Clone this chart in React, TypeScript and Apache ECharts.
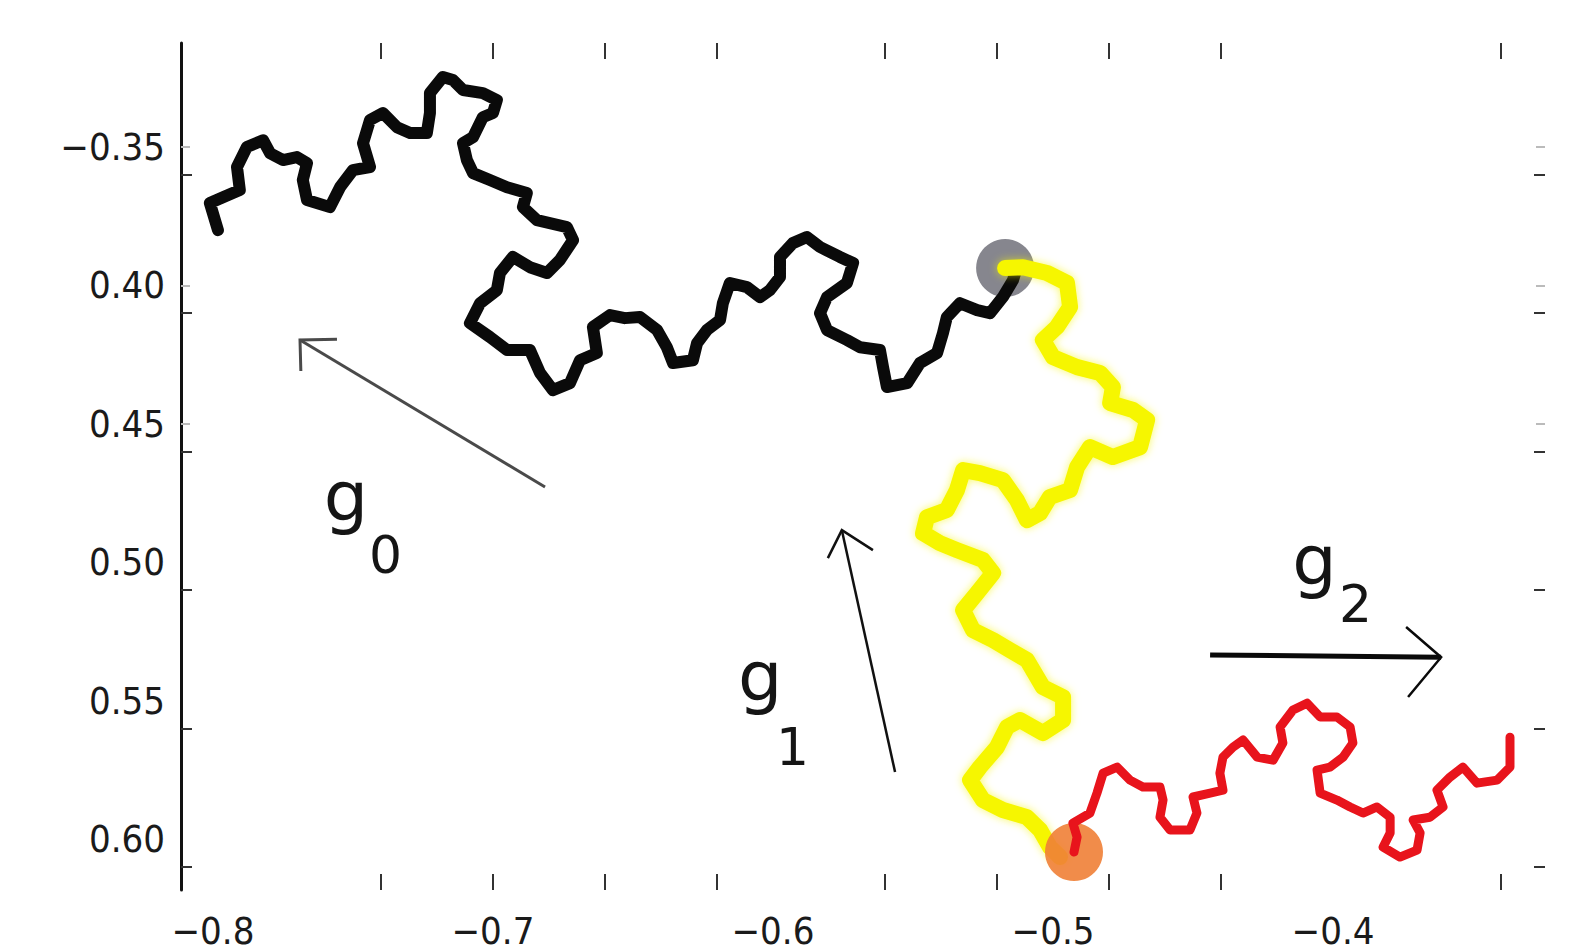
import React, { useEffect, useRef } from "react";
import * as echarts from "echarts";

// Axis ranges and ticks (data units)
const xRange = [-0.8114, -0.3243];
const yRange = [-0.6184, -0.3124];
const xTickLabels = [-0.8, -0.7, -0.6, -0.5, -0.4];
const yTickLabels = [-0.35, -0.4, -0.45, -0.5, -0.55, -0.6];
const xTicks = [-0.74, -0.7, -0.66, -0.62, -0.56, -0.52, -0.48, -0.44, -0.34];
const yTicks = [-0.36, -0.41, -0.46, -0.51, -0.56, -0.61];
const yFaintTicks = [-0.35, -0.4, -0.45];

// g0 path (black)
const curveG0 = [
  [-0.7982, -0.38], [-0.8011, -0.3702], [-0.7964, -0.3681], [-0.7904, -0.3655], [-0.7914, -0.3572],
  [-0.7879, -0.35], [-0.7821, -0.3475], [-0.7796, -0.3522], [-0.775, -0.3547], [-0.77, -0.3536],
  [-0.7664, -0.3558], [-0.7679, -0.3619], [-0.7664, -0.3691], [-0.7582, -0.3717], [-0.7546, -0.3645],
  [-0.75, -0.3583], [-0.7439, -0.3572], [-0.7464, -0.3486], [-0.7439, -0.3402], [-0.7393, -0.3377],
  [-0.7343, -0.3428], [-0.7296, -0.3449], [-0.7236, -0.3449], [-0.7225, -0.3377], [-0.7225, -0.3305],
  [-0.7179, -0.3247], [-0.7143, -0.3258], [-0.7107, -0.3294], [-0.7036, -0.3305], [-0.6986, -0.333],
  [-0.7, -0.3377], [-0.7036, -0.3392], [-0.7071, -0.3464], [-0.7107, -0.3486], [-0.7093, -0.3547],
  [-0.7071, -0.3594], [-0.7011, -0.3619], [-0.695, -0.3645], [-0.6879, -0.3666], [-0.6893, -0.3717],
  [-0.6843, -0.3764], [-0.6736, -0.3789], [-0.6714, -0.3836], [-0.6761, -0.3908], [-0.6807, -0.3955],
  [-0.6868, -0.3934], [-0.6929, -0.3897], [-0.6975, -0.3955], [-0.6986, -0.4017], [-0.7046, -0.4064],
  [-0.7082, -0.4136], [-0.7011, -0.4186], [-0.695, -0.4233], [-0.6868, -0.4233], [-0.6832, -0.4316],
  [-0.6786, -0.4378], [-0.6725, -0.4353], [-0.6689, -0.427], [-0.6629, -0.4244], [-0.6643, -0.415],
  [-0.6582, -0.4107], [-0.6529, -0.4118], [-0.6475, -0.4114], [-0.6414, -0.4161], [-0.6379, -0.4223],
  [-0.6357, -0.428], [-0.6286, -0.427], [-0.6271, -0.4208], [-0.6236, -0.4161], [-0.6189, -0.4125],
  [-0.6179, -0.4064], [-0.6154, -0.3991], [-0.6093, -0.4006], [-0.6046, -0.4042], [-0.6011, -0.4017],
  [-0.5975, -0.397], [-0.5975, -0.3897], [-0.5929, -0.3847], [-0.5879, -0.3825], [-0.5832, -0.3861],
  [-0.5761, -0.3897], [-0.5714, -0.3919], [-0.5736, -0.3991], [-0.5807, -0.4042], [-0.5832, -0.41],
  [-0.5807, -0.4161], [-0.5736, -0.4197], [-0.5689, -0.4223], [-0.5618, -0.4233], [-0.5607, -0.4295],
  [-0.5593, -0.4367], [-0.5521, -0.4353], [-0.5475, -0.428], [-0.5414, -0.4244], [-0.5393, -0.4172],
  [-0.5379, -0.4114], [-0.5332, -0.4064], [-0.5271, -0.4089], [-0.5225, -0.41], [-0.5179, -0.4042],
  [-0.5143, -0.3981], [-0.5129, -0.3934],
];

// g1 path (yellow)
const curveG1 = [
  [-0.5171, -0.3937], [-0.5107, -0.3934], [-0.5021, -0.3955], [-0.495, -0.3991], [-0.4939, -0.4078],
  [-0.4986, -0.415], [-0.5036, -0.4197], [-0.5, -0.4259], [-0.4914, -0.4295], [-0.4832, -0.4316],
  [-0.4786, -0.4367], [-0.4796, -0.4425], [-0.4714, -0.445], [-0.4664, -0.4486], [-0.4689, -0.4584],
  [-0.4786, -0.462], [-0.4868, -0.4584], [-0.4914, -0.4656], [-0.4939, -0.4739], [-0.5011, -0.4764],
  [-0.5046, -0.4822], [-0.5093, -0.4848], [-0.5129, -0.4775], [-0.5179, -0.4703], [-0.5261, -0.4678],
  [-0.5321, -0.4667], [-0.5343, -0.4739], [-0.5379, -0.4811], [-0.545, -0.4837], [-0.5464, -0.4895],
  [-0.5404, -0.4931], [-0.5343, -0.4956], [-0.525, -0.4992], [-0.5214, -0.5039], [-0.5271, -0.5111],
  [-0.5321, -0.5173], [-0.5286, -0.5245], [-0.5214, -0.5281], [-0.5154, -0.5317], [-0.5093, -0.5353],
  [-0.5036, -0.5451], [-0.4964, -0.5487], [-0.4964, -0.557], [-0.5036, -0.5617], [-0.5118, -0.557],
  [-0.5164, -0.5595], [-0.52, -0.5668], [-0.5261, -0.574], [-0.5296, -0.5787], [-0.525, -0.5859],
  [-0.5179, -0.5895], [-0.5093, -0.5921], [-0.5046, -0.5967], [-0.5011, -0.6029], [-0.4975, -0.6065],
];

// g2 path (red)
const curveG2 = [
  [-0.4925, -0.6047], [-0.4914, -0.5993], [-0.4929, -0.5942], [-0.4868, -0.5906], [-0.4843, -0.5834],
  [-0.4821, -0.5762], [-0.4771, -0.574], [-0.4725, -0.5787], [-0.4679, -0.5812], [-0.4618, -0.5812],
  [-0.4607, -0.5859], [-0.4618, -0.5921], [-0.4582, -0.5967], [-0.4511, -0.5967], [-0.4486, -0.5906],
  [-0.45, -0.5848], [-0.4439, -0.5834], [-0.4393, -0.5823], [-0.4404, -0.5762], [-0.4393, -0.5704],
  [-0.4357, -0.5668], [-0.4321, -0.5642], [-0.4271, -0.5704], [-0.4214, -0.5715], [-0.4179, -0.5653],
  [-0.4189, -0.5595], [-0.4143, -0.5534], [-0.4093, -0.5509], [-0.4046, -0.5559], [-0.3986, -0.5559],
  [-0.3939, -0.5595], [-0.3929, -0.5653], [-0.3964, -0.5704], [-0.4011, -0.574], [-0.4057, -0.5751],
  [-0.4046, -0.5834], [-0.3986, -0.5859], [-0.3939, -0.5884], [-0.3893, -0.5906], [-0.3843, -0.5884],
  [-0.3796, -0.5921], [-0.3796, -0.5978], [-0.3821, -0.6029], [-0.3761, -0.6065], [-0.37, -0.604],
  [-0.3689, -0.5978], [-0.3714, -0.5931], [-0.3654, -0.5921], [-0.3607, -0.5884], [-0.3629, -0.5823],
  [-0.3582, -0.5776], [-0.3536, -0.574], [-0.3486, -0.5798], [-0.3414, -0.5787], [-0.3368, -0.574],
  [-0.3368, -0.5679], [-0.3368, -0.5632],
];

const startPoint = [-0.5171, -0.3937];
const endPoint = [-0.4925, -0.6047];

// Annotation arrows: [tail, tip, arm1, arm2]
const arrowG0 = [[-0.6814, -0.4728], [-0.7689, -0.4197], [-0.7557, -0.4194], [-0.7686, -0.4309]];
const arrowG1 = [[-0.5564, -0.5758], [-0.5754, -0.4884], [-0.5804, -0.4985], [-0.5643, -0.4956]];
const arrowG2 = [[-0.4439, -0.5335], [-0.3614, -0.5343], [-0.3739, -0.5234], [-0.3732, -0.5487]];

// Labels: g anchor (left, baseline) and subscript anchor (left, baseline)
const labelNames = ["g", "g", "g"];
const labelSubs = ["0", "1", "2"];
const labelAnchors = [[-0.7604, -0.4851], [-0.6125, -0.5501], [-0.4146, -0.5082]];
const subAnchors = [[-0.7443, -0.5039], [-0.5989, -0.5733], [-0.3979, -0.5216]];

const FONT = "'DejaVu Sans Condensed', 'Liberation Sans', sans-serif";
const LABEL_FONT = "'DejaVu Sans', sans-serif";

export default function App() {
  const ref = useRef<HTMLDivElement | null>(null);
  useEffect(() => {
    if (!ref.current) return;
    const chart = echarts.init(ref.current, null, { renderer: "svg" });
    const tickStyle = { color: "#333", width: 2 };
    const faintTick = { color: "#bbb", width: 2 };
    const option: any = {
      animation: false,
      backgroundColor: "#ffffff",
      grid: { left: 181, right: 24, top: 43, bottom: 62, containLabel: false },
      xAxis: [
        {
          type: "value",
          position: "bottom",
          min: xRange[0],
          max: xRange[1],
          splitLine: { show: false },
          axisLine: { show: false },
          axisTick: { show: true, inside: true, length: 16, lineStyle: tickStyle, customValues: xTicks },
          axisLabel: {
            show: true,
            customValues: xTickLabels,
            margin: 22,
            fontSize: 38,
            fontFamily: FONT,
            color: "#1a1a1a",
            formatter: (v: number) => "\u2212" + Math.abs(v).toFixed(1),
          },
        },
        {
          type: "value",
          position: "top",
          min: xRange[0],
          max: xRange[1],
          splitLine: { show: false },
          axisLine: { show: false },
          axisTick: { show: true, inside: true, length: 16, lineStyle: tickStyle, customValues: xTicks },
          axisLabel: { show: false },
        },
      ],
      yAxis: [
        {
          type: "value",
          position: "left",
          min: yRange[0],
          max: yRange[1],
          splitLine: { show: false },
          axisLine: { show: true, onZero: false, lineStyle: { color: "#111", width: 3 } },
          axisTick: { show: true, inside: true, length: 11, lineStyle: tickStyle, customValues: yTicks },
          axisLabel: {
            show: true,
            customValues: yTickLabels,
            margin: 16,
            fontSize: 38,
            fontFamily: FONT,
            color: "#1a1a1a",
            formatter: (v: number) =>
              Math.abs(v + 0.35) < 1e-6 ? "\u22120.35" : Math.abs(v).toFixed(2),
          },
        },
        {
          type: "value",
          position: "right",
          min: yRange[0],
          max: yRange[1],
          splitLine: { show: false },
          axisLine: { show: false },
          axisTick: { show: true, inside: true, length: 11, lineStyle: tickStyle, customValues: yTicks },
          axisLabel: { show: false },
        },
        {
          type: "value",
          position: "left",
          min: yRange[0],
          max: yRange[1],
          splitLine: { show: false },
          axisLine: { show: false },
          axisTick: { show: true, inside: true, length: 9, lineStyle: faintTick, customValues: yFaintTicks },
          axisLabel: { show: false },
        },
        {
          type: "value",
          position: "right",
          min: yRange[0],
          max: yRange[1],
          splitLine: { show: false },
          axisLine: { show: false },
          axisTick: { show: true, inside: true, length: 9, lineStyle: faintTick, customValues: yFaintTicks },
          axisLabel: { show: false },
        },
      ],
      series: [
        {
          type: "scatter",
          data: [startPoint],
          symbolSize: 58,
          itemStyle: { color: "#86868e", opacity: 1 },
          silent: true,
          z: 1,
        },
        {
          type: "line",
          data: curveG0,
          showSymbol: false,
          lineStyle: { color: "#0a0a0a", width: 12, join: "round", cap: "round" },
          silent: true,
          z: 2,
        },
        {
          type: "line",
          data: curveG1,
          showSymbol: false,
          lineStyle: {
            color: "#f6f600",
            width: 16,
            join: "round",
            cap: "round",
            shadowColor: "rgba(246,246,0,0.6)",
            shadowBlur: 8,
          },
          silent: true,
          z: 3,
        },
        {
          type: "scatter",
          data: [endPoint],
          symbolSize: 58,
          itemStyle: { color: "#f07f36", opacity: 0.9 },
          silent: true,
          z: 4,
        },
        {
          type: "line",
          data: curveG2,
          showSymbol: false,
          lineStyle: { color: "#e8141c", width: 9, join: "round", cap: "round" },
          silent: true,
          z: 5,
        },
      ],
    };
    chart.setOption(option);

    const px = (p: number[]) => chart.convertToPixel({ gridIndex: 0 }, p) as number[];
    const graphics: any[] = [];
    const addArrow = (a: number[][], color: string, shaftW: number, headW: number) => {
      const [tail, tip, arm1, arm2] = a.map(px);
      graphics.push({
        type: "line",
        shape: { x1: tail[0], y1: tail[1], x2: tip[0], y2: tip[1] },
        style: { stroke: color, lineWidth: shaftW },
        z: 10,
      });
      graphics.push({
        type: "polyline",
        shape: { points: [arm1, tip, arm2] },
        style: { stroke: color, lineWidth: headW, fill: null },
        z: 10,
      });
    };
    addArrow(arrowG0, "#4a4a4a", 3, 3);
    addArrow(arrowG1, "#111", 2.5, 2.5);
    addArrow(arrowG2, "#0a0a0a", 5, 2.5);

    const gSize = 70;
    const subSize = 52;
    labelNames.forEach((name, i) => {
      const a = px(labelAnchors[i]);
      const s = px(subAnchors[i]);
      graphics.push({
        type: "text",
        x: a[0],
        y: a[1] - 0.346 * gSize,
        style: {
          text: name,
          fontSize: gSize,
          fontFamily: LABEL_FONT,
          fill: "#151515",
          align: "left",
          verticalAlign: "middle",
        },
        z: 10,
      });
      graphics.push({
        type: "text",
        x: s[0],
        y: s[1] - 0.346 * subSize,
        style: {
          text: labelSubs[i],
          fontSize: subSize,
          fontFamily: LABEL_FONT,
          fill: "#151515",
          align: "left",
          verticalAlign: "middle",
        },
        z: 10,
      });
    });
    chart.setOption({ graphic: graphics });

    return () => chart.dispose();
  }, []);

  return (
    <div
      ref={ref}
      style={{ position: "fixed", left: 0, top: 0, width: 1569, height: 952, background: "#fff" }}
    />
  );
}
